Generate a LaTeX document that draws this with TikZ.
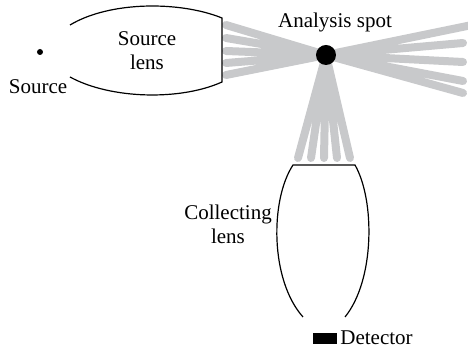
\documentclass[tikz,border=0pt]{standalone}
\usepackage{fontspec}
\setmainfont{Liberation Serif}
\usetikzlibrary{backgrounds}

\definecolor{raygray}{RGB}{200,201,203}

\begin{document}
\begin{tikzpicture}[
  x=0.5pt, y=-0.5pt, every node/.style={font=\fontsize{10.5}{12}\selectfont},
  lensline/.style={draw, line width=0.6pt},
  ray/.style={raygray, line width=4pt, line cap=round},
  spot/.style={circle, fill=black, minimum size=10pt, inner sep=0pt},
]
\useasboundingbox (0,0) rectangle (468,346);

% source and source lens
\node[circle, fill=black, minimum size=3pt, inner sep=0pt] (src) at (40,52) {};
\node (srclabel) at (38,87) {Source};
\draw[lensline] (70,25) .. controls (110,1) and (180,1) .. (222,18)
  -- (222,82) .. controls (180,101) and (110,99) .. (70,77);
\node[align=center] (srclens) at (147,51) {Source\\lens};

% analysis spot
\node[spot] (spot) at (326,55) {};
\node (spotlabel) at (335,22) {Analysis spot};

% ray ends
\coordinate (l1) at (226,25); \coordinate (l2) at (226,38);
\coordinate (l3) at (226,51); \coordinate (l4) at (226,63);
\coordinate (l5) at (226,75);
\coordinate (r1) at (472,25); \coordinate (r2) at (463,43);
\coordinate (r3) at (463,62); \coordinate (r4) at (463,81);
\coordinate (r5) at (463,93);
\coordinate (d1) at (298,158); \coordinate (d2) at (311,158);
\coordinate (d3) at (324,158); \coordinate (d4) at (337,158);
\coordinate (d5) at (350,158);
\begin{scope}[on background layer]
  \draw[ray] (spot.center) -- (l1) (spot.center) -- (l2) (spot.center) -- (l3)
    (spot.center) -- (l4) (spot.center) -- (l5);
  \draw[ray] (spot.center) -- (r1) (spot.center) -- (r2) (spot.center) -- (r3)
    (spot.center) -- (r4) (spot.center) -- (r5);
  \draw[ray] (spot.center) -- (d1) (spot.center) -- (d2) (spot.center) -- (d3)
    (spot.center) -- (d4) (spot.center) -- (d5);
\end{scope}

% collecting lens and detector
\draw[lensline] (303,317) .. controls (270,280) and (270,200) .. (293,165)
  -- (355,165) .. controls (375,200) and (375,280) .. (345,317);
\node[align=center] (collens) at (228,224) {Collecting\\lens};
\node[fill=black, minimum width=12pt, minimum height=5.5pt, inner sep=0pt]
  (det) at (325,338.5) {};
\node[anchor=south west, inner sep=0pt, text depth=0pt] (detlabel)
  at (340,344.5) {Detector};
\end{tikzpicture}
\end{document}
